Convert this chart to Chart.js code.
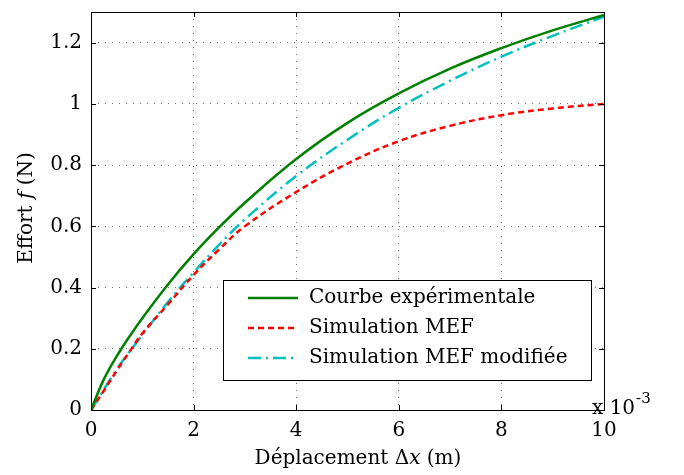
<!DOCTYPE html>
<html>
<head>
<meta charset="utf-8">
<script src="https://cdn.jsdelivr.net/npm/chart.js@4.4.1/dist/chart.umd.min.js"></script>
<style>
  body { margin: 0; background: #fff; }
  #wrap { width: 684px; height: 475px; }
</style>
</head>
<body>
<div id="wrap"><canvas id="effortChart" width="684" height="475"></canvas></div>
<script>
// deplacement (x 10^-3 m)
var xValues      = [0, 0.25, 0.5, 0.75, 1, 1.5, 2, 2.5, 3, 4, 5, 6, 7, 8, 9, 10];
var expValues    = [0, 0.1, 0.175, 0.24, 0.3, 0.41, 0.509, 0.597, 0.677, 0.82, 0.938, 1.034, 1.115, 1.182, 1.24, 1.29];
var mefValues    = [0, 0.063, 0.128, 0.19, 0.25, 0.345, 0.441, 0.525, 0.6, 0.712, 0.805, 0.878, 0.928, 0.963, 0.985, 1.0];
var mefModValues = [0, 0.067, 0.133, 0.19, 0.245, 0.353, 0.449, 0.54, 0.623, 0.764, 0.883, 0.987, 1.075, 1.154, 1.222, 1.285];
var seriesNames = ['Courbe expérimentale', 'Simulation MEF', 'Simulation MEF modifiée'];
var xTicks = [0, 2, 4, 6, 8, 10];
var yTicks = [0, 0.2, 0.4, 0.6, 0.8, 1, 1.2];
var yTickLabels = ['0', '0.2', '0.4', '0.6', '0.8', '1', '1.2'];

var FONT = 'DejaVu Serif';
var FSIZE = 20;

function toPoints(ys) {
    var pts = [];
    for (var i = 0; i < xValues.length; i++) {
        pts.push({x: xValues[i], y: ys[i]});
    }
    return pts;
}

// cadre + petits traits vers l'interieur, legende, titres d'axes
var matlabFrame = {
    id: 'matlabFrame',
    afterDraw: function (chart) {
        var ctx = chart.ctx;
        var a = chart.chartArea;
        var xs = chart.scales.x, ys = chart.scales.y;
        ctx.save();
        ctx.strokeStyle = '#000';
        ctx.lineWidth = 1;
        ctx.setLineDash([]);
        ctx.strokeRect(Math.round(a.left) + 0.5, Math.round(a.top) + 0.5,
            Math.round(a.right - a.left), Math.round(a.bottom - a.top));
        ctx.beginPath();
        xTicks.forEach(function (v) {
            var px = Math.round(xs.getPixelForValue(v)) + 0.5;
            ctx.moveTo(px, a.bottom); ctx.lineTo(px, a.bottom - 5);
            ctx.moveTo(px, a.top); ctx.lineTo(px, a.top + 5);
        });
        yTicks.forEach(function (v) {
            var py = Math.round(ys.getPixelForValue(v)) + 0.5;
            ctx.moveTo(a.left, py); ctx.lineTo(a.left + 5, py);
            ctx.moveTo(a.right, py); ctx.lineTo(a.right - 5, py);
        });
        ctx.stroke();

        // legende
        var lx = 223, ly = 280, lw = 368, lh = 100;
        ctx.fillStyle = '#fff';
        ctx.fillRect(lx, ly, lw, lh);
        ctx.strokeRect(lx + 0.5, ly + 0.5, lw, lh);
        ctx.font = FSIZE + 'px "' + FONT + '"';
        ctx.textBaseline = 'middle';
        ctx.textAlign = 'left';
        chart.data.datasets.forEach(function (ds, i) {
            var y = 298 + i * 30;
            ctx.strokeStyle = ds.borderColor;
            ctx.lineWidth = ds.borderWidth;
            ctx.setLineDash(ds.borderDash || []);
            ctx.beginPath();
            ctx.moveTo(248, y); ctx.lineTo(298, y);
            ctx.stroke();
            ctx.fillStyle = '#000';
            ctx.fillText(ds.label, 309, y);
        });
        ctx.setLineDash([]);

        // titres
        ctx.fillStyle = '#000';
        var parts = [['Déplacement ', 'normal'], ['Δ', 'normal'], ['x', 'italic'], [' (m)', 'normal']];
        drawParts(ctx, parts, 358, 459);
        ctx.save();
        ctx.translate(27, 208);
        ctx.rotate(-Math.PI / 2);
        drawParts(ctx, [['Effort ', 'normal'], ['f', 'italic'], [' (N)', 'normal']], 0, 0);
        ctx.restore();

        // facteur d'echelle
        ctx.textAlign = 'left';
        ctx.font = FSIZE + 'px "' + FONT + '"';
        ctx.fillText('x 10', 592, 409);
        var w = ctx.measureText('x 10').width;
        ctx.font = '15px "' + FONT + '"';
        ctx.fillText('-3', 592 + w + 1, 399);
        ctx.restore();
    }
};

function drawParts(ctx, parts, cx, cy) {
    var total = 0;
    parts.forEach(function (p) {
        ctx.font = (p[1] == 'italic' ? 'italic ' : '') + FSIZE + 'px "' + FONT + '"';
        total += ctx.measureText(p[0]).width;
    });
    var x = cx - total / 2;
    ctx.textAlign = 'left';
    ctx.textBaseline = 'middle';
    parts.forEach(function (p) {
        ctx.font = (p[1] == 'italic' ? 'italic ' : '') + FSIZE + 'px "' + FONT + '"';
        ctx.fillText(p[0], x, cy);
        x += ctx.measureText(p[0]).width;
    });
}

var gridStyle = {
    color: 'rgba(60,60,60,0.75)',
    lineWidth: 1,
    drawTicks: false
};

var ctx = document.getElementById('effortChart').getContext('2d');
var effortChart = new Chart(ctx, {
    type: 'line',
    data: {
        datasets: [
            {
                label: seriesNames[0],
                data: toPoints(expValues),
                borderColor: '#008000',
                borderWidth: 2.5,
                pointRadius: 0,
                tension: 0.4
            },
            {
                label: seriesNames[1],
                data: toPoints(mefValues),
                borderColor: '#ff0000',
                borderWidth: 2.5,
                borderDash: [6, 4],
                pointRadius: 0,
                tension: 0.4
            },
            {
                label: seriesNames[2],
                data: toPoints(mefModValues),
                borderColor: '#00bfbf',
                borderWidth: 2.5,
                borderDash: [13, 5, 2, 5],
                pointRadius: 0,
                tension: 0.4
            }
        ]
    },
    options: {
        responsive: false,
        animation: false,
        devicePixelRatio: 1,
        layout: { padding: { left: 0, right: 80, top: 12, bottom: 0 } },
        plugins: {
            legend: { display: false },
            tooltip: { enabled: false }
        },
        scales: {
            x: {
                type: 'linear',
                min: 0,
                max: 10,
                afterBuildTicks: function (scale) {
                    scale.ticks = xTicks.map(function (v) { return {value: v}; });
                },
                afterFit: function (scale) {
                    scale.height = 65;
                    scale.paddingLeft = 0;
                    scale.paddingRight = 0;
                },
                ticks: {
                    color: '#000',
                    padding: 9,
                    maxRotation: 0,
                    font: { family: FONT, size: FSIZE },
                    callback: function (v) { return String(v); }
                },
                grid: gridStyle,
                border: { display: false, dash: [1, 6] }
            },
            y: {
                type: 'linear',
                min: 0,
                max: 1.3,
                afterBuildTicks: function (scale) {
                    scale.ticks = yTicks.map(function (v) { return {value: v}; });
                },
                afterFit: function (scale) {
                    scale.width = 91;
                    scale.paddingTop = 0;
                    scale.paddingBottom = 0;
                },
                ticks: {
                    color: '#000',
                    padding: 9,
                    font: { family: FONT, size: FSIZE },
                    callback: function (v) {
                        var i = yTicks.indexOf(v);
                        return i >= 0 ? yTickLabels[i] : '';
                    }
                },
                grid: gridStyle,
                border: { display: false, dash: [1, 6] }
            }
        }
    },
    plugins: [matlabFrame]
});
</script>
</body>
</html>
